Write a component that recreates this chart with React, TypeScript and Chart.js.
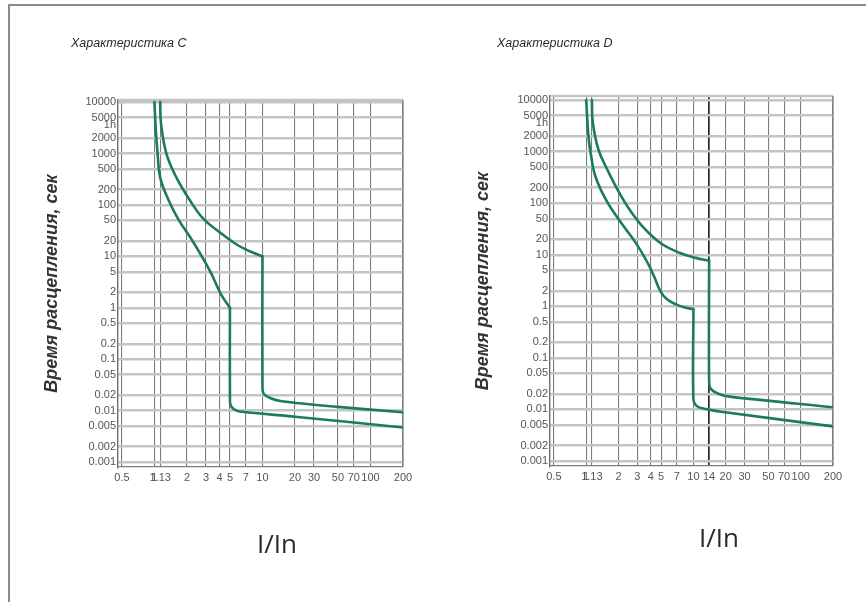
import { useEffect, useRef } from 'react';
import { Chart, registerables } from 'chart.js';

Chart.register(...registerables);

// ---------- data ----------
const timeTicks = [0.001, 0.002, 0.005, 0.01, 0.02, 0.05, 0.1, 0.2, 0.5, 1, 2, 5, 10, 20, 50, 100, 200, 500, 1000, 2000, 3600, 5000, 10000];
const hourTick = 3600;
const currentTicksC = [0.5, 1, 1.13, 2, 3, 4, 5, 7, 10, 20, 30, 50, 70, 100, 200];
const currentTicksD = [0.5, 1, 1.13, 2, 3, 4, 5, 7, 10, 14, 20, 30, 50, 70, 100, 200];

// Characteristic C — thermal (overload) parts
const cLowerThermI = [1.0, 1.03, 1.07, 1.13, 1.35, 1.67, 2.13, 2.64, 3.3, 4.15, 5.0];
const cLowerThermT = [10000, 2800, 1000, 340, 125, 52, 24, 11.5, 5, 1.8, 1.0];
const cUpperThermI = [1.13, 1.15, 1.29, 1.6, 2.13, 2.83, 4.0, 5.76, 7.6, 10];
const cUpperThermT = [10000, 3900, 1000, 340, 123, 54, 29.6, 17, 12.6, 10];
// Characteristic C — instantaneous (short-circuit) parts
const cLowerInstI = [5.0, 5.0, 5.1, 5.76, 7.1, 20, 200];
const cLowerInstT = [1.0, 0.0163, 0.0123, 0.01, 0.0093, 0.0076, 0.0047];
const cUpperInstI = [10, 10, 10.3, 11.9, 15.1, 50, 200];
const cUpperInstT = [10, 0.027, 0.021, 0.0174, 0.0152, 0.0118, 0.0093];

// Characteristic D — thermal parts
const dLowerThermI = [1.0, 1.05, 1.1, 1.22, 1.56, 2.15, 2.89, 3.7, 4.3, 4.9, 5.6, 6.8, 8.3, 10];
const dLowerThermT = [10000, 2000, 950, 330, 108, 40, 17.2, 7.3, 3.8, 2.0, 1.4, 1.1, 0.95, 0.88];
const dUpperThermI = [1.13, 1.15, 1.3, 1.6, 2.0, 2.6, 3.5, 5.0, 7.5, 10.5, 14];
const dUpperThermT = [10000, 3800, 1100, 420, 170, 70, 32, 16.5, 10.8, 8.7, 7.7];
// Characteristic D — instantaneous parts
const dLowerInstI = [10, 10, 10.9, 13.8, 18.2, 200];
const dLowerInstT = [0.88, 0.0155, 0.0114, 0.01, 0.009, 0.0047];
const dUpperInstI = [14, 14, 14.5, 17.3, 21.8, 200];
const dUpperInstT = [7.7, 0.035, 0.025, 0.02, 0.0177, 0.011];

const FONT = '"Liberation Sans", Arial, sans-serif';
const CURVE = '#1b7c5d';

type Seg = { xs: number[]; ys: number[]; tension: number };
type Spec = {
  header: string;
  ticksX: number[];
  markX: number | null;
  segs: Seg[];
  area: { left: number; right: number; top: number; bottom: number };
  yMin: number; yMax: number;
  titlePad: number;
  headerPos: [number, number];
  xTitlePos: [number, number];
};

const W = 433;
const H = 602;

const specs: Spec[] = [
  {
    header: 'Характеристика C', ticksX: currentTicksC, markX: null,
    segs: [
      { xs: cLowerThermI, ys: cLowerThermT, tension: 0.4 },
      { xs: cLowerInstI, ys: cLowerInstT, tension: 0.3 },
      { xs: cUpperThermI, ys: cUpperThermT, tension: 0.4 },
      { xs: cUpperInstI, ys: cUpperInstT, tension: 0.3 },
    ],
    area: { left: 118, right: 403, top: 100, bottom: 467 },
    yMin: 0.0008, yMax: 11000, titlePad: 11,
    headerPos: [71, 47], xTitlePos: [277, 546],
  },
  {
    header: 'Характеристика D', ticksX: currentTicksD, markX: 14,
    segs: [
      { xs: dLowerThermI, ys: dLowerThermT, tension: 0.4 },
      { xs: dLowerInstI, ys: dLowerInstT, tension: 0.3 },
      { xs: dUpperThermI, ys: dUpperThermT, tension: 0.4 },
      { xs: dUpperInstI, ys: dUpperInstT, tension: 0.3 },
    ],
    area: { left: 117, right: 400, top: 96, bottom: 466 },
    yMin: 0.0008, yMax: 12000, titlePad: 9,
    headerPos: [64, 47], xTitlePos: [286, 540],
  },
];

const toPoints = (xs: number[], ys: number[]) => xs.map((x, i) => ({ x, y: ys[i] }));

function Panel({ spec }: { spec: Spec }) {
  const ref = useRef<HTMLCanvasElement>(null);
  useEffect(() => {
    if (!ref.current) return;
    const padLeft = 30;
    const textPlugin = {
      id: 'panelTexts',
      afterDraw(chart: any) {
        const ctx = chart.ctx;
        ctx.save();
        ctx.fillStyle = '#2a2a2a';
        ctx.font = `italic 12.5px ${FONT}`;
        ctx.textAlign = 'left';
        ctx.textBaseline = 'alphabetic';
        ctx.fillText(spec.header, spec.headerPos[0], spec.headerPos[1]);
        ctx.fillStyle = '#2a2a2a';
        ctx.font = `26px "Open Sans", ${FONT}`;
        ctx.textAlign = 'center';
        ctx.textBaseline = 'middle';
        ctx.fillText('I/In', spec.xTitlePos[0], spec.xTitlePos[1]);
        ctx.restore();
      },
      beforeDatasetsDraw(chart: any) {
        const { ctx, chartArea: a } = chart;
        ctx.save();
        ctx.strokeStyle = '#c4c4c4';
        ctx.lineWidth = 2.4;
        ctx.beginPath();
        ctx.moveTo(a.left, a.top);
        ctx.lineTo(a.right, a.top);
        ctx.stroke();
        ctx.strokeStyle = '#7d7d7d';
        ctx.lineWidth = 1.2;
        ctx.beginPath();
        ctx.moveTo(a.right, a.top);
        ctx.lineTo(a.right, a.bottom);
        ctx.stroke();
        ctx.restore();
      },
    };
    const chart = new Chart(ref.current, {
      type: 'line',
      data: {
        datasets: spec.segs.map((s) => ({
          data: toPoints(s.xs, s.ys),
          borderColor: CURVE,
          borderWidth: 2.6,
          pointRadius: 0,
          tension: s.tension,
          borderJoinStyle: 'round',
          borderCapStyle: 'round',
          fill: false,
        })),
      },
      options: {
        responsive: false,
        animation: false,
        events: [],
        layout: {
          padding: { left: padLeft, right: W - spec.area.right, top: spec.area.top, bottom: 0 },
        },
        plugins: { legend: { display: false }, tooltip: { enabled: false }, title: { display: false } },
        scales: {
          x: {
            type: 'logarithmic',
            min: 0.46,
            max: 200,
            afterBuildTicks: (s: any) => { s.ticks = spec.ticksX.map((v) => ({ value: v })); },
            afterFit: (s: any) => { s.height = H - spec.area.bottom; },
            ticks: {
              autoSkip: false, maxRotation: 0, minRotation: 0, padding: 4,
              color: '#555', font: { family: FONT, size: 11 },
              callback: (v: any) => String(v),
            },
            grid: {
              drawTicks: false,
              color: (c: any) => (c.tick && c.tick.value === spec.markX ? '#262626' : '#7d7d7d'),
              lineWidth: (c: any) => (c.tick && c.tick.value === spec.markX ? 1.7 : 1.1),
            },
            border: { display: true, color: '#7d7d7d', width: 1.2 },
          },
          y: {
            type: 'logarithmic',
            min: spec.yMin,
            max: spec.yMax,
            afterBuildTicks: (s: any) => { s.ticks = timeTicks.map((v) => ({ value: v })); },
            afterFit: (s: any) => { s.width = spec.area.left - padLeft; },
            ticks: {
              autoSkip: false, padding: 2,
              color: '#555', font: { family: FONT, size: 11 },
              callback: (v: any) => (v === hourTick ? '1h' : String(v)),
            },
            grid: {
              drawTicks: false,
              color: (c: any) => (c.tick && c.tick.value === hourTick ? 'rgba(0,0,0,0)' : '#c4c4c4'),
              lineWidth: 2.4,
            },
            border: { display: true, color: '#6f6f6f', width: 1.4 },
            title: {
              display: true,
              text: 'Время расцепления, сек',
              color: '#333',
              font: { family: FONT, size: 18, style: 'italic', weight: 'bold' },
              padding: { top: spec.titlePad, bottom: 0 },
            },
          },
        },
      },
      plugins: [textPlugin],
    } as any);
    return () => chart.destroy();
  }, [spec]);
  return <canvas ref={ref} width={W} height={H} style={{ display: 'block', width: W, height: H }} />;
}

export default function App() {
  return (
    <div style={{ position: 'absolute', left: 0, top: 0, width: 866, height: 602, overflow: 'hidden', background: '#fff' }}>
      <div style={{ position: 'absolute', left: 8, top: 4, width: 900, height: 700, borderTop: '2px solid #8c8c8c', borderLeft: '2px solid #8c8c8c' }} />
      <div style={{ position: 'absolute', left: 0, top: 0, display: 'flex' }}>
        {specs.map((s) => (
          <Panel key={s.header} spec={s} />
        ))}
      </div>
    </div>
  );
}
